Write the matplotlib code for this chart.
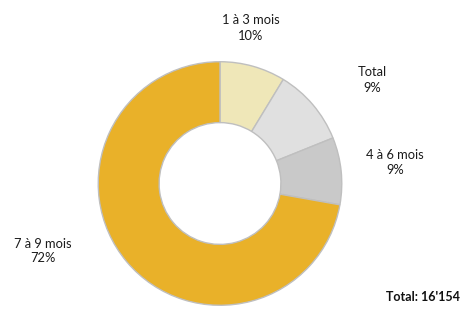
import matplotlib
matplotlib.use("Agg")
import matplotlib.pyplot as plt

categories = ["1 à 3 mois", "Total", "4 à 6 mois", "7 à 9 mois"]
shares = [8.7, 10.2, 8.9, 72.2]
pct_labels = ["10%", "9%", "9%", "72%"]
total_text = "Total: 16'154"

colors = ["#EFE7B8", "#E0E0E0", "#C9C9C9", "#E9B129"]

W, H = 468, 309
fig = plt.figure(figsize=(W / 100, H / 100), dpi=100)
plt.rcParams['font.family'] = ['Lato', 'DejaVu Sans']

cx, cy, r = 220, 183.5, 123
ax = fig.add_axes([(cx - r) / W, (H - cy - r) / H, 2 * r / W, 2 * r / H])
ax.pie(shares, colors=colors, startangle=90, counterclock=False, radius=1.0,
       wedgeprops=dict(width=0.5, edgecolor="#BFBFBF", linewidth=1.0))
ax.set_xlim(-1.01, 1.01)
ax.set_ylim(-1.01, 1.01)
ax.set_aspect("equal")
ax.axis("off")

label_pos = [(251, 28), (372, 80), (395, 163), (43, 251)]
for cat, pct, (px, py) in zip(categories, pct_labels, label_pos):
    fig.text(px / W, 1 - py / H, f"{cat}\n{pct}", ha="center", va="center",
             fontsize=9.3, color="#1a1a1a", linespacing=1.3)

fig.text(460 / W, 1 - 297 / H, total_text, ha="right", va="center",
         fontsize=9, fontweight="bold", color="#111111")

fig.savefig("out.png", dpi=100)
